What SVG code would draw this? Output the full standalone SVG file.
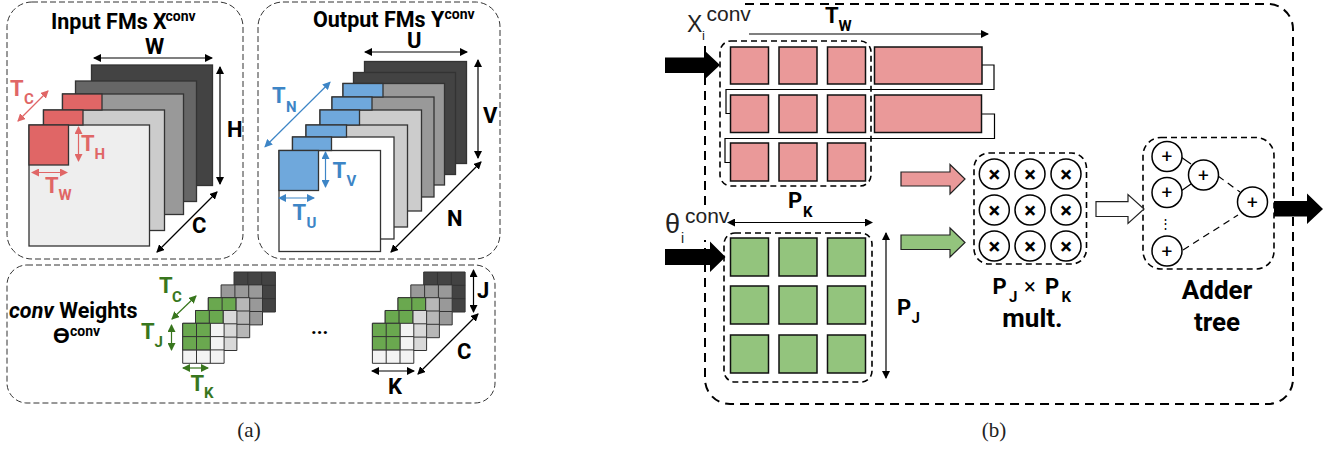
<svg xmlns="http://www.w3.org/2000/svg" xmlns:xlink="http://www.w3.org/1999/xlink" width="1335" height="450" viewBox="0 0 1335 450">
<style>
text{font-family:Roboto,"Liberation Sans",sans-serif;font-weight:700;fill:#000}
.dash{fill:none;stroke:#333;stroke-width:1;stroke-dasharray:6 3}
.dashb{fill:none;stroke:#000;stroke-width:1.6;stroke-dasharray:6 4}
.sheet{stroke:#333;stroke-width:1.3}
.r{fill:#e06666}.b{fill:#6fa8dc}.g{fill:#6aa84f}
.pink{fill:#ea9999;stroke:#111;stroke-width:1.5}
.grn{fill:#93c47d;stroke:#111;stroke-width:1.5}
.circ{fill:#fff;stroke:#000;stroke-width:1.5}
.a{fill:none;stroke-width:1.2}
.ak{stroke:#000;marker-start:url(#mk);marker-end:url(#mk)}
.ar{stroke:#e06666;marker-start:url(#mr);marker-end:url(#mr)}
.ab{stroke:#3d85c6;marker-start:url(#mb);marker-end:url(#mb)}
.ag{stroke:#38761d;marker-start:url(#mg);marker-end:url(#mg)}
text.tr{fill:#e06666}text.tb{fill:#3d85c6}text.tg{fill:#38761d}
text.cap{font-family:"Liberation Serif",serif;font-weight:400;font-size:21px;fill:#222}
text.arial{font-family:"Liberation Sans",sans-serif;font-weight:400;fill:#222}
.sym text{text-anchor:middle}
.big{font-size:22px}
.t{font-size:22px}
.s{font-size:15px}
.line{fill:none;stroke:#000;stroke-width:1.2}
</style>
<defs>
<marker id="mk" markerUnits="userSpaceOnUse" markerWidth="9" markerHeight="8" refX="7" refY="4" orient="auto-start-reverse"><path d="M0 0L8 4L0 8z" fill="#000"/></marker>
<marker id="mr" markerUnits="userSpaceOnUse" markerWidth="9" markerHeight="8" refX="7" refY="4" orient="auto-start-reverse"><path d="M0 0L8 4L0 8z" fill="#e06666"/></marker>
<marker id="mb" markerUnits="userSpaceOnUse" markerWidth="9" markerHeight="8" refX="7" refY="4" orient="auto-start-reverse"><path d="M0 0L8 4L0 8z" fill="#3d85c6"/></marker>
<marker id="mg" markerUnits="userSpaceOnUse" markerWidth="9" markerHeight="8" refX="7" refY="4" orient="auto-start-reverse"><path d="M0 0L8 4L0 8z" fill="#38761d"/></marker>
<path id="grid" d="M0 0h41.4v40H0zM13.8 0v40M27.6 0v40M0 13.3h41.4M0 26.6h41.4" stroke="#333" stroke-width="1"/>
<g id="stack">
<use xlink:href="#grid" x="51.3" y="-51.3" fill="#434343"/>
<use xlink:href="#grid" x="38.4" y="-38.4" fill="#999"/>
<use xlink:href="#grid" x="25.6" y="-25.6" fill="#b7b7b7"/>
<path d="M25.6-25.6h27.6v13.3H25.6z" class="g" stroke="#333"/><path d="M39.4-25.6v13.3" stroke="#333"/>
<use xlink:href="#grid" x="12.8" y="-12.8" fill="#d9d9d9"/>
<path d="M12.8-12.8h27.6V.5H12.8z" class="g" stroke="#333"/><path d="M26.6-12.8V.5" stroke="#333"/>
<use xlink:href="#grid" fill="#f3f3f3"/>
<path d="M0 0h27.6v26.6H0z" class="g" stroke="#333"/><path d="M13.8 0v26.6M0 13.3h27.6" stroke="#333"/>
</g>
</defs>
<rect width="1335" height="450" fill="#fff"/>

<g id="input-fms">
<rect class="dash" x="7" y="2" width="236" height="257" rx="25"/>
<text x="51" y="29" font-size="21.5">Input FMs X<tspan font-size="14" x="165.500" y="21">conv</tspan></text>
<rect class="sheet" fill="#434343" x="91.5" y="65" width="121" height="120.5"/>
<rect class="sheet" fill="#666" x="75.5" y="81" width="121" height="120.5"/>
<rect class="sheet" fill="#999" x="62.5" y="94" width="121" height="120.5"/>
<rect class="sheet" fill="#ccc" x="43.5" y="110" width="121" height="120.5"/>
<rect class="sheet" fill="#eee" x="29" y="125" width="120.5" height="121"/>
<rect class="sheet r" x="62.5" y="94" width="39.5" height="16"/>
<rect class="sheet r" x="43.5" y="110" width="39.5" height="15"/>
<rect class="sheet r" x="29" y="125" width="39.5" height="40"/>
<text class="big" x="145" y="54">W</text>
<text class="big" x="227" y="137">H</text>
<text class="big" x="192" y="233">C</text>
<text class="tr t" x="10" y="96">T<tspan class="s" x="24" y="104">C</tspan></text>
<text class="tr t" x="81" y="151">T<tspan class="s" x="94.500" y="159">H</tspan></text>
<text class="tr t" x="45" y="192.500">T<tspan class="s" x="58.500" y="200">W</tspan></text>
</g>

<g id="output-fms">
<rect class="dash" x="258" y="2" width="242" height="257" rx="25"/>
<text x="313" y="26.500" font-size="21.5">Output FMs Y<tspan font-size="14" x="444.500" y="19">conv</tspan></text>
<rect class="sheet" fill="#434343" x="364.5" y="61.5" width="102" height="102"/>
<rect class="sheet" fill="#434343" x="353.5" y="72.5" width="102" height="102"/>
<rect class="sheet" fill="#999" x="343" y="83.5" width="101.5" height="101.5"/>
<rect class="sheet" fill="#999" x="332" y="97" width="102" height="100"/>
<rect class="sheet" fill="#ccc" x="320" y="110" width="101.5" height="101"/>
<rect class="sheet" fill="#ccc" x="306" y="125" width="101.5" height="102"/>
<rect class="sheet" fill="#fff" x="292.5" y="137" width="101.5" height="102"/>
<rect class="sheet" fill="#fff" x="279" y="150.5" width="101.5" height="101"/>
<rect class="sheet b" x="343" y="83.5" width="40" height="13.5"/>
<rect class="sheet b" x="332" y="97" width="40" height="13"/>
<rect class="sheet b" x="320" y="110" width="39.5" height="15"/>
<rect class="sheet b" x="306" y="125" width="40.5" height="12"/>
<rect class="sheet b" x="292.5" y="137" width="39" height="13.5"/>
<rect class="sheet b" x="279" y="150.5" width="39.5" height="40"/>
<text class="big" x="407" y="48">U</text>
<text class="big" x="483" y="123">V</text>
<text class="big" x="447" y="226">N</text>
<text class="tb t" x="272" y="103">T<tspan class="s" x="286" y="112">N</tspan></text>
<text class="tb t" x="332.500" y="178">T<tspan class="s" x="346.500" y="186">V</tspan></text>
<text class="tb t" x="292.500" y="220">T<tspan class="s" x="306.500" y="228">U</tspan></text>
</g>

<g id="conv-weights">
<rect class="dash" x="7" y="265" width="488" height="138" rx="20"/>
<text x="9" y="318" font-size="21.5"><tspan font-style="italic">conv</tspan> Weights</text>
<text x="53" y="343" font-size="21.5">ϴ<tspan font-size="14" x="70" y="336">conv</tspan></text>
<use xlink:href="#stack" x="182.7" y="323.3"/>
<use xlink:href="#stack" x="372.4" y="323.3"/>
<text x="311" y="334" font-size="20">...</text>
<text class="tg t" x="159" y="293">T<tspan class="s" x="172" y="302">C</tspan></text>
<text class="tg t" x="141" y="339">T<tspan class="s" x="154.500" y="347">J</tspan></text>
<text class="tg t" x="190.500" y="391">T<tspan class="s" x="204" y="398">K</tspan></text>
<text class="big" x="477" y="298">J</text>
<text class="big" x="457" y="359">C</text>
<text class="big" x="388" y="394">K</text>
</g>

<g id="pe-array">
<path d="M745 4H1268a25 25 0 0 1 25 25V379a25 25 0 0 1-25 25H730a25 25 0 0 1-25-25V240M705 205V42" fill="none" stroke="#000" stroke-width="2" stroke-dasharray="9 6"/>
<text class="arial" x="687" y="32" font-size="23">X<tspan font-size="13" x="702" y="40">i</tspan><tspan font-size="21" x="706.500" y="21">conv</tspan></text>
<text class="arial" x="665" y="233" font-size="27">θ<tspan font-size="14" x="681" y="243">i</tspan><tspan font-size="21" x="685" y="223">conv</tspan></text>
<text class="t" x="825" y="23">T<tspan class="s" x="838.500" y="31">W</tspan></text>
<text class="t" x="788" y="208">P<tspan class="s" x="803" y="217">K</tspan></text>
<text class="t" x="897" y="315">P<tspan class="s" x="911.500" y="323">J</tspan></text>
</g>

<g id="line-buffer">
<path class="line" d="M982 65H994V89.5H726V113.5H730M981.5 114H994.5V138.5H725V162.5H730"/>
<rect class="dashb" x="720" y="41" width="151" height="145" rx="11"/>
<g class="pink">
<rect x="730.5" y="47" width="38" height="37"/><rect x="779" y="47" width="38" height="37"/><rect x="827.500" y="47" width="38" height="37"/><rect x="874.500" y="47" width="107.500" height="37"/>
<rect x="730.5" y="95" width="38" height="37.500"/><rect x="779" y="95" width="38" height="37.500"/><rect x="827.500" y="95" width="38" height="37.500"/><rect x="874.500" y="95" width="107" height="37.500"/>
<rect x="730.5" y="143" width="38" height="38"/><rect x="779" y="143" width="38" height="38"/><rect x="827.500" y="143" width="38" height="38"/>
</g>
</g>

<g id="weight-buffer">
<rect class="dashb" x="724" y="233" width="148" height="149" rx="11"/>
<g class="grn">
<rect x="730.5" y="238" width="38" height="38"/><rect x="779" y="238" width="38" height="38"/><rect x="827.500" y="238" width="38" height="38"/>
<rect x="730.5" y="286" width="38" height="38"/><rect x="779" y="286" width="38" height="38"/><rect x="827.500" y="286" width="38" height="38"/>
<rect x="730.5" y="335" width="38" height="38"/><rect x="779" y="335" width="38" height="38"/><rect x="827.500" y="335" width="38" height="38"/>
</g>
</g>

<g id="multipliers">
<rect class="dashb" x="974" y="153" width="112.500" height="111" rx="15"/>
<g class="circ">
<circle cx="994.300" cy="174" r="15"/><circle cx="1030" cy="174" r="15"/><circle cx="1066" cy="174" r="15"/>
<circle cx="994.300" cy="210" r="15"/><circle cx="1030" cy="210" r="15"/><circle cx="1066" cy="210" r="15"/>
<circle cx="994.300" cy="246" r="15"/><circle cx="1030" cy="246" r="15"/><circle cx="1066" cy="246" r="15"/>
</g>
<g class="sym" font-size="22">
<text x="994.300" y="181.500">×</text><text x="1030" y="181.500">×</text><text x="1066" y="181.500">×</text>
<text x="994.300" y="217.500">×</text><text x="1030" y="217.500">×</text><text x="1066" y="217.500">×</text>
<text x="994.300" y="253.500">×</text><text x="1030" y="253.500">×</text><text x="1066" y="253.500">×</text>
</g>
<text class="t" x="992.500" y="294">P</text>
<text class="s" x="1009" y="302">J</text>
<text x="1024" y="294" font-size="22" style="font-weight:400">×</text>
<text class="t" x="1045" y="294">P</text>
<text class="s" x="1061.500" y="302">K</text>
<text x="1032.500" y="327" font-size="26" text-anchor="middle">mult.</text>
</g>

<g id="adder-tree">
<rect class="dashb" x="1143" y="137.500" width="131" height="131.500" rx="18"/>
<path class="line" d="M1181 157L1191 164M1181 191L1191 184"/>
<path class="line" stroke-dasharray="7 5" d="M1218 176L1240 192M1183 250L1238 215"/>
<g class="circ">
<circle cx="1167" cy="156.500" r="15"/><circle cx="1167" cy="192.500" r="15"/><circle cx="1167" cy="251" r="15"/><circle cx="1203.500" cy="175" r="15"/><circle cx="1252.500" cy="202" r="15"/>
</g>
<g class="sym" font-size="19">
<text x="1167" y="163" style="font-weight:400">+</text><text x="1167" y="199" style="font-weight:400">+</text><text x="1167" y="257.500" style="font-weight:400">+</text><text x="1203.500" y="181.500" style="font-weight:400">+</text><text x="1252.500" y="208.500" style="font-weight:400">+</text>
</g>
<text x="1165.700" y="228" font-size="13" text-anchor="middle" style="font-weight:400">⋮</text>
<text x="1217" y="299" font-size="26" text-anchor="middle">Adder</text>
<text x="1217" y="331" font-size="26" text-anchor="middle">tree</text>
</g>

<g id="connectors">
<line class="a ak" x1="94" y1="58" x2="212" y2="58"/>
<line class="a ak" x1="220" y1="67" x2="220" y2="184"/>
<line class="a ak" x1="157" y1="252" x2="217" y2="192"/>
<line class="a ar" x1="18" y1="121" x2="48" y2="91"/>
<line class="a ar" x1="78.500" y1="127" x2="78.500" y2="161"/>
<line class="a ar" x1="32" y1="172.500" x2="67" y2="172.500"/>
<line class="a ak" x1="365" y1="52" x2="467" y2="52"/>
<line class="a ak" x1="478" y1="60" x2="478" y2="158"/>
<line class="a ak" x1="391" y1="252" x2="481" y2="162"/>
<line class="a ab" x1="265" y1="146.700" x2="330" y2="82.300"/>
<line class="a ab" x1="325.500" y1="152" x2="325.500" y2="187"/>
<line class="a ab" x1="279" y1="198" x2="314" y2="198"/>
<line class="a ag" x1="172" y1="319" x2="196" y2="296"/>
<line class="a ag" x1="171.500" y1="325" x2="171.500" y2="350"/>
<line class="a ag" x1="183" y1="368" x2="208" y2="368"/>
<line class="a ak" x1="473.500" y1="270" x2="473.500" y2="312"/>
<line class="a ak" x1="418" y1="374" x2="478" y2="314"/>
<line class="a ak" x1="372" y1="371" x2="414" y2="371"/>
<line class="a" stroke="#000" marker-end="url(#mk)" x1="749" y1="34" x2="988" y2="34"/>
<line class="a ak" x1="728" y1="222.500" x2="872" y2="222.500"/>
<line class="a ak" x1="886" y1="233" x2="886" y2="378"/>
<path fill="#000" d="M665 57.500H704V50L720 65L704 80V73H665z"/>
<path fill="#000" d="M665 249H710V241.500L725.500 257L710 272V265H665z"/>
<path fill="#ea9999" stroke="#222" stroke-width="1.200" d="M901 172H950V164.500L965 179L950 194V186H901z"/>
<path fill="#93c47d" stroke="#222" stroke-width="1.200" d="M901 235H950V228L965 242.500L950 257V249.500H901z"/>
<path fill="#fff" stroke="#222" stroke-width="1.200" d="M1096 201.700H1128V194.500L1144 209L1128 223.500V216.500H1096z"/>
<path fill="#000" d="M1274 201H1307V193.500L1323 209L1307 224V216.500H1274z"/>
</g>

<text class="cap" x="249" y="437" text-anchor="middle">(a)</text>
<text class="cap" x="994" y="437" text-anchor="middle">(b)</text>
</svg>
